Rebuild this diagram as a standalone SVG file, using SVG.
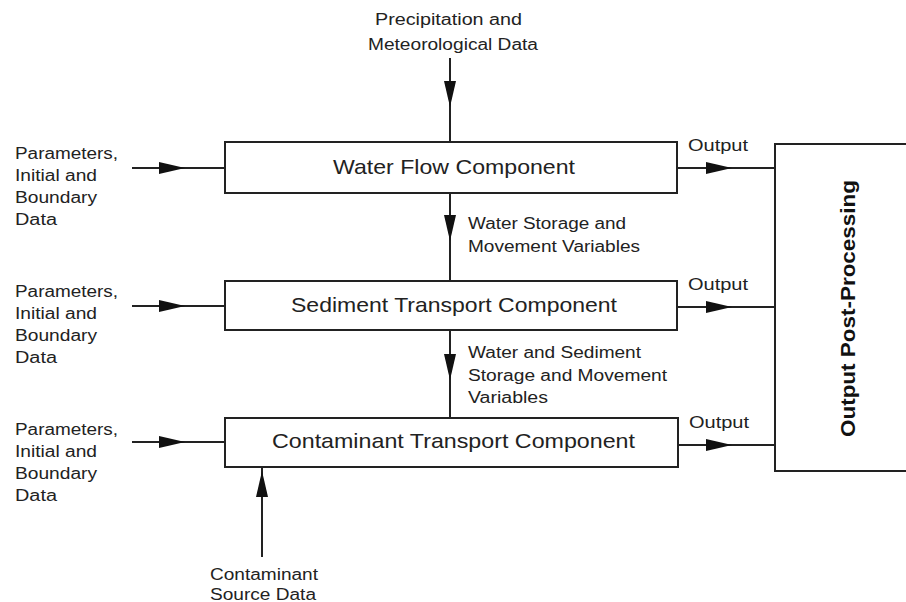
<svg xmlns="http://www.w3.org/2000/svg" width="906" height="602" viewBox="0 0 906 602">
<defs>
<marker id="ah" markerWidth="26" markerHeight="12" refX="13" refY="6" orient="auto" markerUnits="userSpaceOnUse">
<path d="M0,0 L26,6 L0,12 Z" fill="#111"/>
</marker>
<style>
.box{fill:#fff;stroke:#222;stroke-width:2}
.ln{stroke:#222;stroke-width:2;fill:none}
.t{font-family:"Liberation Sans",Arial,sans-serif;font-size:16px;fill:#222}
.bt{font-family:"Liberation Sans",Arial,sans-serif;font-size:21px;fill:#222}
.pt{font-family:"Liberation Sans",Arial,sans-serif;font-size:21px;font-weight:bold;fill:#111}
</style>
</defs>
<rect width="906" height="602" fill="#fff"/>
<g id="connectors">
<path class="ln" d="M450,58 V94 V142" marker-mid="url(#ah)"/>
<path class="ln" d="M132,168 H172 H225" marker-mid="url(#ah)"/>
<path class="ln" d="M132,306 H172 H225" marker-mid="url(#ah)"/>
<path class="ln" d="M132,442 H172 H225" marker-mid="url(#ah)"/>
<path class="ln" d="M677,168 H719 H775" marker-mid="url(#ah)"/>
<path class="ln" d="M677,307 H719 H775" marker-mid="url(#ah)"/>
<path class="ln" d="M678,445 H719 H775" marker-mid="url(#ah)"/>
<path class="ln" d="M450,193 V228 V281" marker-mid="url(#ah)"/>
<path class="ln" d="M450,330 V367 V418" marker-mid="url(#ah)"/>
<path class="ln" d="M262,557 V484 V467" marker-mid="url(#ah)"/>
<text class="t" x="375" y="25" textLength="147" lengthAdjust="spacingAndGlyphs">Precipitation and</text>
<text class="t" x="368" y="50" textLength="170" lengthAdjust="spacingAndGlyphs">Meteorological Data</text>
<text class="t" x="688" y="151" textLength="60" lengthAdjust="spacingAndGlyphs">Output</text>
<text class="t" x="688" y="290" textLength="60" lengthAdjust="spacingAndGlyphs">Output</text>
<text class="t" x="689" y="428" textLength="60" lengthAdjust="spacingAndGlyphs">Output</text>
<text class="t" x="468" y="229" textLength="158" lengthAdjust="spacingAndGlyphs">Water Storage and</text>
<text class="t" x="468" y="252" textLength="172" lengthAdjust="spacingAndGlyphs">Movement Variables</text>
<text class="t" x="468" y="358" textLength="173" lengthAdjust="spacingAndGlyphs">Water and Sediment</text>
<text class="t" x="468" y="381" textLength="199" lengthAdjust="spacingAndGlyphs">Storage and Movement</text>
<text class="t" x="468" y="403" textLength="80" lengthAdjust="spacingAndGlyphs">Variables</text>
<text class="t" x="210" y="580" textLength="108" lengthAdjust="spacingAndGlyphs">Contaminant</text>
<text class="t" x="210" y="600" textLength="106" lengthAdjust="spacingAndGlyphs">Source Data</text>
<g>
<text class="t" x="15" y="159" textLength="103" lengthAdjust="spacingAndGlyphs">Parameters,</text>
<text class="t" x="15" y="181" textLength="82" lengthAdjust="spacingAndGlyphs">Initial and</text>
<text class="t" x="15" y="203" textLength="82" lengthAdjust="spacingAndGlyphs">Boundary</text>
<text class="t" x="15" y="225" textLength="42" lengthAdjust="spacingAndGlyphs">Data</text>
</g>
<g>
<text class="t" x="15" y="297" textLength="103" lengthAdjust="spacingAndGlyphs">Parameters,</text>
<text class="t" x="15" y="319" textLength="82" lengthAdjust="spacingAndGlyphs">Initial and</text>
<text class="t" x="15" y="341" textLength="82" lengthAdjust="spacingAndGlyphs">Boundary</text>
<text class="t" x="15" y="363" textLength="42" lengthAdjust="spacingAndGlyphs">Data</text>
</g>
<g>
<text class="t" x="15" y="435" textLength="103" lengthAdjust="spacingAndGlyphs">Parameters,</text>
<text class="t" x="15" y="457" textLength="82" lengthAdjust="spacingAndGlyphs">Initial and</text>
<text class="t" x="15" y="479" textLength="82" lengthAdjust="spacingAndGlyphs">Boundary</text>
<text class="t" x="15" y="501" textLength="42" lengthAdjust="spacingAndGlyphs">Data</text>
</g>
</g>
<g id="water-flow">
<rect class="box" x="225" y="142" width="452" height="51"/>
<text class="bt" x="333" y="174" textLength="242" lengthAdjust="spacingAndGlyphs">Water Flow Component</text>
</g>
<g id="sediment">
<rect class="box" x="225" y="281" width="452" height="49"/>
<text class="bt" x="291" y="312" textLength="326" lengthAdjust="spacingAndGlyphs">Sediment Transport Component</text>
</g>
<g id="contaminant">
<rect class="box" x="225" y="418" width="453" height="49"/>
<text class="bt" x="272" y="448" textLength="363" lengthAdjust="spacingAndGlyphs">Contaminant Transport Component</text>
</g>
<g id="post-processing">
<rect class="box" x="775" y="144" width="140" height="327"/>
<text class="pt" transform="translate(855,437) rotate(-90)" textLength="257" lengthAdjust="spacingAndGlyphs">Output Post-Processing</text>
</g>
</svg>
